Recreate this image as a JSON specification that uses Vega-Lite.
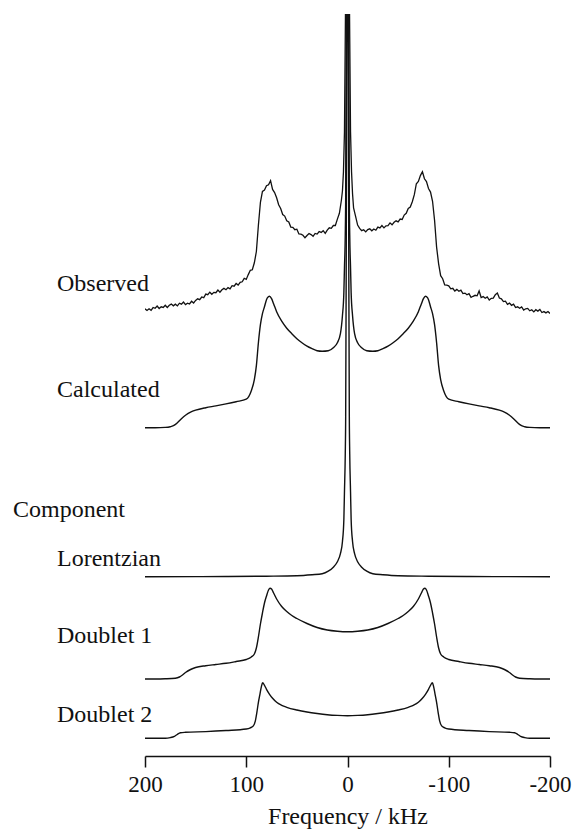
{
  "$schema": "https://vega.github.io/schema/vega-lite/v6.json",
  "width": 405,
  "height": 742,
  "autosize": {"type": "none"},
  "padding": {"left": 145, "top": 14, "right": 25, "bottom": 73},
  "background": "white",
  "config": {
    "view": {"stroke": null},
    "font": "Liberation Serif",
    "axis": {
      "domainColor": "#111", "domainWidth": 1.5,
      "tickColor": "#111", "tickWidth": 1.5, "tickSize": 11,
      "labelFont": "Liberation Serif", "labelFontSize": 23, "labelColor": "#111", "labelPadding": 6,
      "titleFont": "Liberation Serif", "titleFontSize": 24, "titleFontWeight": "normal", "titleColor": "#111", "titlePadding": 8,
      "grid": false
    },
    "axisX": {"labelExpr": "replace(format(datum.value, 'd'), '\u2212', '-')", "labelFlush": false, "labelOverlap": false},
    "text": {"font": "Liberation Serif", "fontSize": 24, "color": "#111", "align": "left", "baseline": "alphabetic"},
    "line": {"color": "#111", "strokeWidth": 1.4}
  },
  "datasets": {
    "obs": [
      {"f":200,"v":3.2},{"f":198,"v":1.5},{"f":196,"v":3.2},{"f":194,"v":1.7},{"f":192,"v":4.5},{"f":190,"v":3.7},{"f":188,"v":5.9},{"f":186,"v":3.5},{"f":184,"v":5.2},{"f":182,"v":4.6},
      {"f":180,"v":6.8},{"f":178,"v":4.5},{"f":176,"v":6.7},{"f":174,"v":7.9},{"f":172,"v":6.2},{"f":170,"v":7.8},{"f":168,"v":6.1},{"f":166,"v":8.8},{"f":164,"v":7.8},{"f":162,"v":9.9},
      {"f":160,"v":7.4},{"f":158,"v":8.8},{"f":156,"v":8.0},{"f":154,"v":10.8},{"f":152,"v":9.0},{"f":150,"v":11.6},{"f":148,"v":13.2},{"f":146,"v":12.4},{"f":144,"v":15.0},{"f":142,"v":14.3},
      {"f":140,"v":17.9},{"f":138,"v":17.3},{"f":136,"v":19.8},{"f":134,"v":17.7},{"f":132,"v":19.6},{"f":130,"v":19.3},{"f":128,"v":21.9},{"f":126,"v":19.8},{"f":124,"v":22.2},{"f":122,"v":23.6},
      {"f":120,"v":22.3},{"f":118,"v":24.4},{"f":116,"v":23.1},{"f":114,"v":26.3},{"f":112,"v":25.8},{"f":110,"v":28.5},{"f":108,"v":26.9},{"f":106,"v":29.6},{"f":104,"v":30.2},{"f":102,"v":33.7},
      {"f":100,"v":32.6},{"f":98,"v":37.4},{"f":96,"v":41.7},{"f":94,"v":42.2},{"f":92,"v":49.2},{"f":90,"v":60.5},{"f":88,"v":86.9},{"f":86,"v":109.7},{"f":84,"v":120.6},{"f":82,"v":121.9},
      {"f":80,"v":126.2},{"f":78,"v":127.3},{"f":76,"v":131.3},{"f":74,"v":122.6},{"f":72,"v":119.4},{"f":70,"v":114.2},{"f":68,"v":107.2},{"f":66,"v":103.5},{"f":64,"v":97.5},{"f":62,"v":95.9},
      {"f":60,"v":91.2},{"f":58,"v":90.1},{"f":56,"v":84.9},{"f":54,"v":84.7},{"f":52,"v":82.3},{"f":50,"v":82.8},{"f":48,"v":78.1},{"f":46,"v":77.9},{"f":44,"v":76.7},{"f":42,"v":74.2},
      {"f":40,"v":76.5},{"f":38,"v":78.5},{"f":36,"v":77.4},{"f":34,"v":75.7},{"f":32,"v":78.6},{"f":30,"v":77.9},{"f":28,"v":80.5},{"f":26,"v":79.6},{"f":24,"v":81.3},{"f":22,"v":78.6},
      {"f":20,"v":81.9},{"f":18,"v":84.2},{"f":16,"v":83.7},{"f":14,"v":86.5},{"f":12,"v":86.5},{"f":10,"v":92.9},{"f":8,"v":98.7},{"f":6,"v":112},{"f":5,"v":121},{"f":4,"v":140},
      {"f":3,"v":180},{"f":2,"v":300},{"f":1.2,"v":550},{"f":0.5,"v":900},{"f":0,"v":900},{"f":-0.5,"v":900},{"f":-1.2,"v":550},{"f":-2,"v":300},{"f":-3,"v":180},{"f":-4,"v":140},
      {"f":-5,"v":118},{"f":-6,"v":104},{"f":-8,"v":95.6},{"f":-10,"v":86.9},{"f":-12,"v":83.7},{"f":-14,"v":81.3},{"f":-16,"v":82.3},{"f":-18,"v":80.1},{"f":-20,"v":82.4},{"f":-22,"v":83.2},
      {"f":-24,"v":81.2},{"f":-26,"v":83.0},{"f":-28,"v":81.8},{"f":-30,"v":84.9},{"f":-32,"v":84.1},{"f":-34,"v":86.4},{"f":-36,"v":84.1},{"f":-38,"v":86.2},{"f":-40,"v":86.3},{"f":-42,"v":89.1},
      {"f":-44,"v":87.2},{"f":-46,"v":89.7},{"f":-48,"v":91.2},{"f":-50,"v":90.2},{"f":-52,"v":93.0},{"f":-54,"v":92.5},{"f":-56,"v":96.9},{"f":-58,"v":98.7},{"f":-60,"v":103.6},{"f":-62,"v":104.9},
      {"f":-64,"v":110.2},{"f":-66,"v":117.3},{"f":-68,"v":128.3},{"f":-70,"v":130.6},{"f":-72,"v":136.4},{"f":-74,"v":140.2},{"f":-76,"v":133.2},{"f":-78,"v":130.5},{"f":-80,"v":123.5},{"f":-82,"v":119.9},
      {"f":-84,"v":110.7},{"f":-86,"v":91.6},{"f":-88,"v":64.9},{"f":-90,"v":48.2},{"f":-92,"v":36.3},{"f":-94,"v":33.3},{"f":-96,"v":27.1},{"f":-98,"v":26.9},{"f":-100,"v":26.2},{"f":-102,"v":23.2},
      {"f":-104,"v":23.7},{"f":-106,"v":20.9},{"f":-108,"v":22.6},{"f":-110,"v":20.7},{"f":-112,"v":21.9},{"f":-114,"v":18.4},{"f":-116,"v":18.9},{"f":-118,"v":17.2},{"f":-120,"v":18.3},{"f":-122,"v":14.6},
      {"f":-124,"v":15.7},{"f":-126,"v":16.7},{"f":-128,"v":16.2},{"f":-130,"v":21.0},{"f":-132,"v":14.5},{"f":-134,"v":15.4},{"f":-136,"v":13.7},{"f":-138,"v":15.1},{"f":-140,"v":11.9},{"f":-142,"v":13.7},
      {"f":-144,"v":13.8},{"f":-146,"v":17.3},{"f":-148,"v":19.0},{"f":-150,"v":13.9},{"f":-152,"v":13.2},{"f":-154,"v":10.4},{"f":-156,"v":10.8},{"f":-158,"v":7.7},{"f":-160,"v":8.9},{"f":-162,"v":6.7},
      {"f":-164,"v":7.9},{"f":-166,"v":4.5},{"f":-168,"v":5.2},{"f":-170,"v":3.7},{"f":-172,"v":5.1},{"f":-174,"v":1.9},{"f":-176,"v":3.2},{"f":-178,"v":3.6},{"f":-180,"v":1.2},{"f":-182,"v":2.3},
      {"f":-184,"v":0.1},{"f":-186,"v":2.3},{"f":-188,"v":0.9},{"f":-190,"v":2.6},{"f":-192,"v":-0.5},{"f":-194,"v":0.4},{"f":-196,"v":-0.9},{"f":-198,"v":0.5},{"f":-200,"v":-1.5}
    ],
    "calc": [
      {"f":200,"v":0},{"f":190,"v":0},{"f":180,"v":0.3},{"f":175,"v":1},{"f":171,"v":2.5},{"f":168,"v":5},{"f":165,"v":8},{"f":160,"v":12.5},{"f":155,"v":15.5},{"f":150,"v":17.5},
      {"f":140,"v":20},{"f":130,"v":21.8},{"f":120,"v":23.8},{"f":110,"v":26},{"f":100,"v":28.5},{"f":95,"v":37},{"f":92,"v":48},{"f":90,"v":62},{"f":88,"v":85},{"f":86,"v":103},
      {"f":84,"v":114},{"f":82,"v":121},{"f":80,"v":128},{"f":79,"v":130},{"f":77,"v":131.5},{"f":75,"v":129},{"f":73,"v":124},{"f":70,"v":116},{"f":65,"v":106.5},{"f":60,"v":99.5},
      {"f":55,"v":94},{"f":50,"v":89},{"f":45,"v":85},{"f":40,"v":81.5},{"f":35,"v":79},{"f":30,"v":77},{"f":25,"v":76.5},{"f":19,"v":77},{"f":14,"v":80},{"f":10,"v":85},
      {"f":7,"v":94},{"f":5,"v":112},{"f":3.6,"v":135},{"f":3,"v":160},{"f":2.2,"v":193},{"f":1.8,"v":230},{"f":1.3,"v":370},{"f":0.8,"v":570},{"f":0,"v":700},
      {"f":-0.8,"v":570},{"f":-1.3,"v":370},{"f":-1.8,"v":230},{"f":-2.2,"v":193},{"f":-3,"v":160},{"f":-3.6,"v":135},{"f":-5,"v":112},{"f":-7,"v":94},{"f":-10,"v":85},{"f":-14,"v":80},
      {"f":-19,"v":77},{"f":-25,"v":76.5},{"f":-30,"v":77},{"f":-35,"v":79},{"f":-40,"v":81.5},{"f":-45,"v":85},{"f":-50,"v":89},{"f":-55,"v":94},{"f":-60,"v":99.5},{"f":-65,"v":106.5},
      {"f":-70,"v":116},{"f":-73,"v":124},{"f":-75,"v":129},{"f":-77,"v":131.5},{"f":-79,"v":130},{"f":-80,"v":128},{"f":-82,"v":121},{"f":-84,"v":114},{"f":-86,"v":103},{"f":-88,"v":85},
      {"f":-90,"v":62},{"f":-92,"v":48},{"f":-95,"v":37},{"f":-100,"v":28.5},{"f":-110,"v":26},{"f":-120,"v":23.8},{"f":-130,"v":21.8},{"f":-140,"v":20},{"f":-150,"v":17.5},{"f":-155,"v":15.5},
      {"f":-160,"v":12.5},{"f":-165,"v":8},{"f":-168,"v":5},{"f":-171,"v":2.5},{"f":-175,"v":1},{"f":-180,"v":0.3},{"f":-190,"v":0},{"f":-200,"v":0}
    ],
    "lor": [
      {"f":200,"v":0},{"f":150,"v":0.1},{"f":120,"v":0.2},{"f":80,"v":0.5},{"f":50,"v":1},{"f":35,"v":2},{"f":25,"v":3},{"f":19,"v":5.5},{"f":14,"v":9.5},{"f":10,"v":15},
      {"f":7,"v":23},{"f":5,"v":35},{"f":3.6,"v":57},{"f":3,"v":85},{"f":2.2,"v":123},{"f":1.8,"v":160},{"f":1.3,"v":300},{"f":0.8,"v":500},{"f":0,"v":700},
      {"f":-0.8,"v":500},{"f":-1.3,"v":300},{"f":-1.8,"v":160},{"f":-2.2,"v":123},{"f":-3,"v":85},{"f":-3.6,"v":57},{"f":-5,"v":35},{"f":-7,"v":23},{"f":-10,"v":15},{"f":-14,"v":9.5},
      {"f":-19,"v":5.5},{"f":-25,"v":3},{"f":-35,"v":2},{"f":-50,"v":1},{"f":-80,"v":0.5},{"f":-120,"v":0.2},{"f":-150,"v":0.1},{"f":-200,"v":0}
    ],
    "d1": [
      {"f":200,"v":0},{"f":190,"v":0},{"f":180,"v":0.2},{"f":170,"v":0.8},{"f":166,"v":2},{"f":163,"v":4},{"f":160,"v":6.5},{"f":155,"v":9.5},{"f":150,"v":11.5},{"f":140,"v":13.3},
      {"f":130,"v":14.5},{"f":120,"v":15.7},{"f":110,"v":17.5},{"f":100,"v":19.5},{"f":95,"v":22},{"f":92,"v":25},{"f":90,"v":31},{"f":88,"v":42},{"f":86,"v":55},{"f":84,"v":66},
      {"f":82,"v":76},{"f":80,"v":83},{"f":78,"v":89},{"f":76.5,"v":90.8},{"f":75,"v":90},{"f":73,"v":86},{"f":70,"v":80},{"f":65,"v":72.5},{"f":60,"v":67.5},{"f":55,"v":63.5},
      {"f":50,"v":60.5},{"f":40,"v":55.5},{"f":30,"v":51.5},{"f":20,"v":49},{"f":10,"v":47.8},{"f":0,"v":47.3},
      {"f":-10,"v":47.8},{"f":-20,"v":49},{"f":-30,"v":51.5},{"f":-40,"v":55.5},{"f":-50,"v":60.5},{"f":-55,"v":63.5},{"f":-60,"v":67.5},{"f":-65,"v":72.5},{"f":-70,"v":80},{"f":-73,"v":86},
      {"f":-75,"v":90},{"f":-76.5,"v":90.8},{"f":-78,"v":89},{"f":-80,"v":83},{"f":-82,"v":76},{"f":-84,"v":66},{"f":-86,"v":55},{"f":-88,"v":42},{"f":-90,"v":31},{"f":-92,"v":25},
      {"f":-95,"v":22},{"f":-100,"v":19.5},{"f":-110,"v":17.5},{"f":-120,"v":15.7},{"f":-130,"v":14.5},{"f":-140,"v":13.3},{"f":-150,"v":11.5},{"f":-155,"v":9.5},{"f":-160,"v":6.5},{"f":-163,"v":4},
      {"f":-166,"v":2},{"f":-170,"v":0.8},{"f":-180,"v":0.2},{"f":-190,"v":0},{"f":-200,"v":0}
    ],
    "d2": [
      {"f":200,"v":0},{"f":180,"v":0},{"f":175,"v":0.7},{"f":171,"v":2},{"f":168,"v":4},{"f":165,"v":5.5},{"f":160,"v":6},{"f":140,"v":6.7},{"f":120,"v":7.8},{"f":100,"v":9.3},
      {"f":96,"v":10.5},{"f":93,"v":12.5},{"f":91,"v":17.5},{"f":89.5,"v":26},{"f":88,"v":36},{"f":86.5,"v":44},{"f":85,"v":52},{"f":83.8,"v":55.5},{"f":82,"v":53},{"f":80,"v":49},
      {"f":77,"v":44},{"f":74,"v":40},{"f":70,"v":36},{"f":65,"v":33},{"f":60,"v":31},{"f":50,"v":28.3},{"f":40,"v":26.3},{"f":30,"v":24.8},{"f":20,"v":23.6},{"f":10,"v":22.9},
      {"f":0,"v":22.6},
      {"f":-10,"v":22.9},{"f":-20,"v":23.6},{"f":-30,"v":24.8},{"f":-40,"v":26.3},{"f":-50,"v":28.3},{"f":-60,"v":31},{"f":-65,"v":33},{"f":-70,"v":36},{"f":-74,"v":40},{"f":-77,"v":44},
      {"f":-80,"v":49},{"f":-82,"v":53},{"f":-83.8,"v":55.5},{"f":-85,"v":52},{"f":-86.5,"v":44},{"f":-88,"v":36},{"f":-89.5,"v":26},{"f":-91,"v":17.5},{"f":-93,"v":12.5},{"f":-96,"v":10.5},
      {"f":-100,"v":9.3},{"f":-120,"v":7.8},{"f":-140,"v":6.7},{"f":-160,"v":6},{"f":-165,"v":5.5},{"f":-168,"v":4},{"f":-171,"v":2},{"f":-175,"v":0.7},{"f":-180,"v":0},{"f":-200,"v":0}
    ],
    "labels": [
      {"label": "Observed"},
      {"label": "Calculated"},
      {"label": "Component"},
      {"label": "Lorentzian"},
      {"label": "Doublet 1"},
      {"label": "Doublet 2"}
    ]
  },
  "layer": [
    {
      "data": {"name": "obs"},
      "mark": {"type": "line", "interpolate": "linear", "strokeWidth": 1.3, "clip": true},
      "encoding": {
        "x": {"field": "f", "type": "quantitative", "scale": {"domain": [-200, 200], "reverse": true, "nice": false, "zero": false}, "axis": {"values": [200, 100, 0, -100, -200], "title": "Frequency / kHz"}},
        "y": {"field": "v", "type": "quantitative", "scale": {"domain": [-444, 298], "nice": false, "zero": false}, "axis": null},
        "order": {"field": "f", "sort": "descending"}
      }
    },
    {
      "data": {"name": "calc"},
      "mark": {"type": "line", "interpolate": "monotone", "clip": true},
      "encoding": {
        "x": {"field": "f", "type": "quantitative", "scale": {"domain": [-200, 200], "reverse": true, "nice": false, "zero": false}, "axis": {"values": [200, 100, 0, -100, -200], "title": "Frequency / kHz"}},
        "y": {"field": "v", "type": "quantitative", "scale": {"domain": [-328.3, 413.7], "nice": false, "zero": false}, "axis": null},
        "order": {"field": "f", "sort": "descending"}
      }
    },
    {
      "data": {"name": "lor"},
      "mark": {"type": "line", "interpolate": "monotone", "clip": true},
      "encoding": {
        "x": {"field": "f", "type": "quantitative", "scale": {"domain": [-200, 200], "reverse": true, "nice": false, "zero": false}, "axis": {"values": [200, 100, 0, -100, -200], "title": "Frequency / kHz"}},
        "y": {"field": "v", "type": "quantitative", "scale": {"domain": [-179.3, 562.7], "nice": false, "zero": false}, "axis": null},
        "order": {"field": "f", "sort": "descending"}
      }
    },
    {
      "data": {"name": "d1"},
      "mark": {"type": "line", "interpolate": "monotone", "clip": true},
      "encoding": {
        "x": {"field": "f", "type": "quantitative", "scale": {"domain": [-200, 200], "reverse": true, "nice": false, "zero": false}, "axis": {"values": [200, 100, 0, -100, -200], "title": "Frequency / kHz"}},
        "y": {"field": "v", "type": "quantitative", "scale": {"domain": [-77, 665], "nice": false, "zero": false}, "axis": null},
        "order": {"field": "f", "sort": "descending"}
      }
    },
    {
      "data": {"name": "d2"},
      "mark": {"type": "line", "interpolate": "monotone", "clip": true},
      "encoding": {
        "x": {"field": "f", "type": "quantitative", "scale": {"domain": [-200, 200], "reverse": true, "nice": false, "zero": false}, "axis": {"values": [200, 100, 0, -100, -200], "title": "Frequency / kHz"}},
        "y": {"field": "v", "type": "quantitative", "scale": {"domain": [-17.7, 724.3], "nice": false, "zero": false}, "axis": null},
        "order": {"field": "f", "sort": "descending"}
      }
    },
    {
      "data": {"name": "labels"},
      "transform": [{"filter": "datum.label == 'Observed'"}],
      "mark": {"type": "text"},
      "encoding": {
        "x": {"datum": 286.9, "type": "quantitative", "axis": {"values": [200, 100, 0, -100, -200], "title": "Frequency / kHz"}},
        "y": {"datum": 21.3, "type": "quantitative", "scale": {"domain": [-444, 298], "nice": false, "zero": false}, "axis": null},
        "text": {"field": "label"}
      }
    },
    {
      "data": {"name": "labels"},
      "transform": [{"filter": "datum.label == 'Calculated'"}],
      "mark": {"type": "text"},
      "encoding": {
        "x": {"datum": 286.9, "type": "quantitative", "axis": {"values": [200, 100, 0, -100, -200], "title": "Frequency / kHz"}},
        "y": {"datum": 31, "type": "quantitative", "scale": {"domain": [-328.3, 413.7], "nice": false, "zero": false}, "axis": null},
        "text": {"field": "label"}
      }
    },
    {
      "data": {"name": "labels"},
      "transform": [{"filter": "datum.label == 'Component'"}],
      "mark": {"type": "text"},
      "encoding": {
        "x": {"datum": 330.4, "type": "quantitative", "axis": {"values": [200, 100, 0, -100, -200], "title": "Frequency / kHz"}},
        "y": {"datum": 59.4, "type": "quantitative", "scale": {"domain": [-179.3, 562.7], "nice": false, "zero": false}, "axis": null},
        "text": {"field": "label"}
      }
    },
    {
      "data": {"name": "labels"},
      "transform": [{"filter": "datum.label == 'Lorentzian'"}],
      "mark": {"type": "text"},
      "encoding": {
        "x": {"datum": 286.9, "type": "quantitative", "axis": {"values": [200, 100, 0, -100, -200], "title": "Frequency / kHz"}},
        "y": {"datum": 10.7, "type": "quantitative", "scale": {"domain": [-179.3, 562.7], "nice": false, "zero": false}, "axis": null},
        "text": {"field": "label"}
      }
    },
    {
      "data": {"name": "labels"},
      "transform": [{"filter": "datum.label == 'Doublet 1'"}],
      "mark": {"type": "text"},
      "encoding": {
        "x": {"datum": 286.9, "type": "quantitative", "axis": {"values": [200, 100, 0, -100, -200], "title": "Frequency / kHz"}},
        "y": {"datum": 36.3, "type": "quantitative", "scale": {"domain": [-77, 665], "nice": false, "zero": false}, "axis": null},
        "text": {"field": "label"}
      }
    },
    {
      "data": {"name": "labels"},
      "transform": [{"filter": "datum.label == 'Doublet 2'"}],
      "mark": {"type": "text"},
      "encoding": {
        "x": {"datum": 286.9, "type": "quantitative", "axis": {"values": [200, 100, 0, -100, -200], "title": "Frequency / kHz"}},
        "y": {"datum": 16.6, "type": "quantitative", "scale": {"domain": [-17.7, 724.3], "nice": false, "zero": false}, "axis": null},
        "text": {"field": "label"}
      }
    }
  ],
  "resolve": {"scale": {"y": "independent"}}
}
